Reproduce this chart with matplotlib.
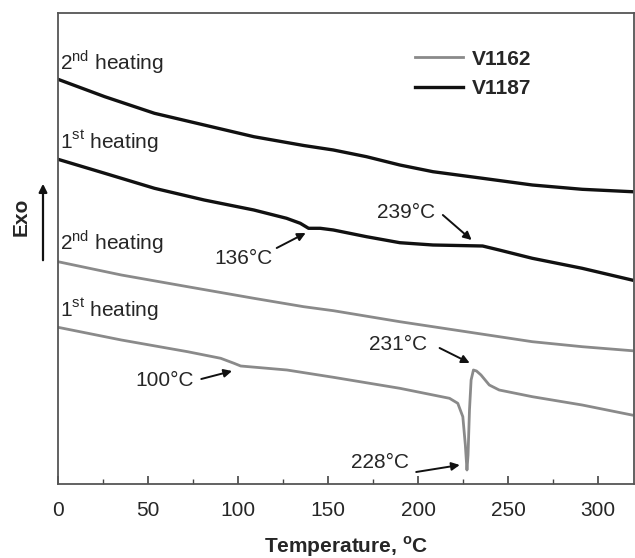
import matplotlib
matplotlib.use("Agg")
import matplotlib.pyplot as plt
from matplotlib.patches import FancyArrowPatch
from matplotlib.ticker import MultipleLocator

plt.rcParams['font.family'] = ['Liberation Sans', 'DejaVu Sans']
plt.rcParams['mathtext.fontset'] = 'custom'
plt.rcParams['mathtext.rm'] = 'Liberation Sans'
plt.rcParams['mathtext.bf'] = 'Liberation Sans:bold'

# ---- data (temperature in °C, heat flow in arbitrary units, exo up) ----
t_1187_2nd = [0, 26, 53.6, 81.2, 108.8, 136.5, 153, 171.4, 189.9, 208.3,
              235.9, 263.5, 291.2, 318.8]
hf_1187_2nd = [404.7, 387.3, 370.7, 359, 347.3, 338.5, 334, 327.3, 319, 312.3,
               305.7, 299, 294.7, 292.3]

t_1187_1st = [0, 26, 53.6, 81.2, 108.8, 127, 134.6, 139.2, 145.7, 153, 171.4,
              189.9, 208.3, 235.9, 245.1, 263.5, 291.2, 318.8]
hf_1187_1st = [324.7, 310.7, 295.7, 284, 274, 265.7, 260.7, 255.7, 255.7, 254, 247.3,
               241.3, 239, 238, 234, 225.7, 215.7, 204]

t_1162_2nd = [0, 35.2, 72, 108.8, 136.5, 153, 189.9, 226.7, 263.5, 291.2, 318.8]
hf_1162_2nd = [222.3, 209, 197.3, 185.7, 177.3, 173.3, 162.3, 152.3, 142.3, 137.3, 133.3]

t_1162_1st = [0, 35.2, 72, 90.4, 97.8, 101.5, 127.2, 153, 189.9, 217.5, 222.1,
              224.9, 226.3, 227.2, 227.8, 228.6, 229.5, 230.8, 232.5, 235, 239.6,
              245.1, 263.5, 291.2, 318.8]
hf_1162_1st = [156.7, 144, 132.3, 125.7, 120.7, 118, 114, 106.7, 95.7, 85.7, 80.7,
               67.3, 39, 14, 29, 74, 104, 114, 113, 109, 99,
               94, 87.3, 79, 69]

series_names = ['V1162', 'V1187']
heating_labels = [r'2$^{\mathrm{nd}}$ heating', r'1$^{\mathrm{st}}$ heating',
                  r'2$^{\mathrm{nd}}$ heating', r'1$^{\mathrm{st}}$ heating']
x_ticks = [0, 50, 100, 150, 200, 250, 300]

GRAY = '#8a8a8a'
BLACK = '#111111'
TXT = '#262626'

fig = plt.figure(figsize=(6.35, 5.58), dpi=100)
W, H = 635, 558
ax = fig.add_axes([58 / W, 1 - 484 / H, (634 - 58) / W, (484 - 13) / H])

l1, = ax.plot(t_1162_1st, hf_1162_1st, color=GRAY, lw=2.0, label=series_names[0],
              solid_joinstyle='round')
ax.plot(t_1162_2nd, hf_1162_2nd, color=GRAY, lw=2.0, solid_joinstyle='round')
l2, = ax.plot(t_1187_1st, hf_1187_1st, color=BLACK, lw=2.4, label=series_names[1],
              solid_joinstyle='round')
ax.plot(t_1187_2nd, hf_1187_2nd, color=BLACK, lw=2.4, solid_joinstyle='round')

ax.set_xlim(0, 320)
ax.set_ylim(0, 471)
ax.set_xticks(x_ticks)
ax.xaxis.set_minor_locator(MultipleLocator(25))
ax.set_yticks([])
ax.tick_params(axis='x', which='major', direction='in', length=6, width=1.2,
               labelsize=15, pad=12, colors='#444444', labelcolor=TXT)
ax.tick_params(axis='x', which='minor', direction='in', length=3.5, width=1.0,
               colors='#444444')
for s in ax.spines.values():
    s.set_color('#555555')
    s.set_linewidth(1.3)

# heating labels
for lab, yv in zip(heating_labels, [422, 342, 242, 174]):
    ax.text(1, yv, lab, fontsize=15, color=TXT, ha='left', va='center')

# annotations
ann = [('136°C', (103.3, 226), (121.5, 236), (137.6, 251)),
       ('239°C', (193.4, 272), (213.8, 269), (229.8, 244)),
       ('100°C', (59.1, 104), (79.6, 105), (96.7, 113)),
       ('231°C', (189.0, 139), (212.0, 136), (228.7, 121)),
       ('228°C', (179.0, 21), (199.0, 12), (223.2, 19))]
for txt, tp, tail, head in ann:
    ax.text(tp[0], tp[1], txt, fontsize=15, color=TXT, ha='center', va='center')
    ax.annotate('', xy=head, xytext=tail,
                arrowprops=dict(arrowstyle='-|>', color=BLACK, lw=1.4,
                                mutation_scale=12, shrinkA=0, shrinkB=0))

# legend
leg = ax.legend(handles=[l1, l2], loc='upper left', bbox_to_anchor=(0.588, 0.962),
                frameon=False, handlelength=2.3, handletextpad=0.4,
                labelspacing=0.5, prop={'size': 15, 'weight': 'bold'})
for t in leg.get_texts():
    t.set_color(TXT)

# x-axis title
fig.text((58 + 634) / 2 / W, 1 - 553 / H, r'Temperature, $^{\mathbf{o}}$C',
         fontsize=15, fontweight='bold', color=TXT, ha='center', va='baseline')

# Exo label and arrow
fig.text(21 / W, 1 - 217 / H, 'Exo', rotation=90, fontsize=15, fontweight='bold',
         color=TXT, ha='center', va='center')
fig.add_artist(FancyArrowPatch((43 / W, 1 - 263 / H), (43 / W, 1 - 181 / H),
                               transform=fig.transFigure, arrowstyle='-|>',
                               mutation_scale=12, color=BLACK, lw=1.6))

fig.savefig('out.png', dpi=100)
